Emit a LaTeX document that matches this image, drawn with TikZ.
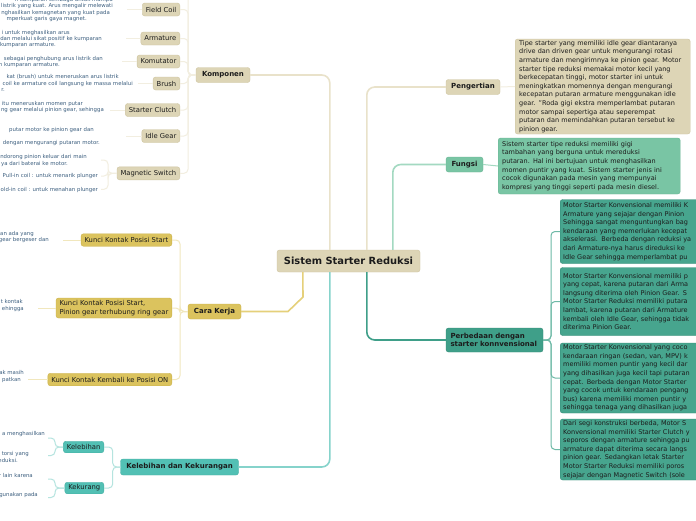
\documentclass[tikz,border=0pt]{standalone}
\usepackage{fontspec}
\setmainfont{DejaVu Sans}
\definecolor{beige}{HTML}{DDD5B6}
\definecolor{beigeD}{HTML}{CEC4A0}
\definecolor{beigeL}{HTML}{E9E2CA}
\definecolor{beigeLL}{HTML}{F2EEE0}
\definecolor{gold}{HTML}{DBC35E}
\definecolor{goldD}{HTML}{CBB24A}
\definecolor{goldL}{HTML}{E5D07A}
\definecolor{goldLL}{HTML}{F1E7BD}
\definecolor{tealc}{HTML}{52C0B4}
\definecolor{tealD}{HTML}{44AFA3}
\definecolor{tealL}{HTML}{86D3CB}
\definecolor{tealLL}{HTML}{B5E4DF}
\definecolor{mint}{HTML}{79C5A4}
\definecolor{mintD}{HTML}{68B493}
\definecolor{mintL}{HTML}{A3D9C1}
\definecolor{sea}{HTML}{3F9F89}
\definecolor{seaD}{HTML}{338B76}
\definecolor{seaBox}{HTML}{47A58E}
\definecolor{seaL}{HTML}{6DB9A6}
\definecolor{leaftxt}{HTML}{3E6080}
\definecolor{boxtxt}{HTML}{1C1C1C}
\begin{document}
\begin{tikzpicture}[x=1pt,y=-1pt,
  basebox/.style={rounded corners=2.5pt, inner ysep=0pt, inner xsep=3.5pt, text=boxtxt, line width=0.4pt},
  childfont/.style={font=\fontsize{6.8}{8}\selectfont},
  boldfont/.style={font=\fontsize{7}{8.5}\selectfont\bfseries},
  bchild/.style={basebox, childfont, fill=beige, draw=beigeD, minimum height=13pt, anchor=east},
  gchild/.style={basebox, childfont, fill=gold, draw=goldD, minimum height=12.5pt, anchor=east},
  tchild/.style={basebox, childfont, fill=tealc, draw=tealD, minimum height=11.5pt, anchor=east},
  mainbox/.style={basebox, boldfont, minimum height=15pt},
  parbox/.style={basebox, font=\fontsize{6.5}{8.6}\selectfont, align=left, inner xsep=4pt, anchor=west},
  leaf/.style={anchor=base east, inner sep=0pt, font=\fontsize{5.4}{6.5}\selectfont, text=leaftxt},
  bline/.style={draw=beigeLL, line width=1pt, rounded corners=4pt},
  bmain/.style={draw=beigeL, line width=1.6pt, rounded corners=8pt},
  gline/.style={draw=goldLL, line width=1pt, rounded corners=4pt},
  gmain/.style={draw=goldL, line width=1.6pt},
  tline/.style={draw=tealLL, line width=1pt, rounded corners=4pt},
  tmain/.style={draw=tealL, line width=1.6pt, rounded corners=8pt},
  mmain/.style={draw=mintL, line width=1.6pt, rounded corners=8pt},
  smain/.style={draw=sea, line width=1.6pt, rounded corners=8pt},
  sline/.style={draw=seaL, line width=1pt, rounded corners=4pt}
]
\useasboundingbox (0,0) rectangle (696,520);
\fill[white] (0,0) rectangle (696,520);

% ---------- root ----------
\node[basebox, fill=beige, draw=beigeD, minimum width=143pt, minimum height=22pt,
  font=\fontsize{9.9}{11}\selectfont\bfseries] (root) at (348.5,261) {Sistem Starter Reduksi};

% ---------- Komponen ----------
\node[mainbox, fill=beige, draw=beigeD, minimum width=54pt] (komp) at (223,75) {Komponen};
\node[bchild] (fc) at (180,9.5) {Field Coil};
\node[bchild] (arm) at (180,38.5) {Armature};
\node[bchild] (kom) at (180,61.5) {Komutator};
\node[bchild] (br) at (180,83.5) {Brush};
\node[bchild] (sc) at (180,110) {Starter Clutch};
\node[bchild] (ig) at (180,136) {Idle Gear};
\node[bchild] (ms) at (180,173.3) {Magnetic Switch};

\draw[bline] (komp.west) -- (188,75) -- (188,-6);
\foreach \c in {fc,arm,kom,br,sc,ig,ms}{\draw[bline] (komp.west) -- (188,75) |- (\c.east);}

\coordinate (fcL) at (127,9.5);
\coordinate (armL) at (126,38.5);
\coordinate (komL) at (122,61.5);
\coordinate (brL) at (138,83.5);
\coordinate (scL) at (110,110);
\coordinate (igL) at (126,136);
\draw[bline] (fc.west) -- (fcL);
\draw[bline] (arm.west) -- (armL);
\draw[bline] (kom.west) -- (komL);
\draw[bline] (br.west) -- (brL);
\draw[bline] (sc.west) -- (scL);
\draw[bline] (ig.west) -- (igL);
\coordinate (msA) at (101,160);
\coordinate (msB) at (101,176);
\coordinate (msC) at (101,189.3);
\foreach \c in {msA,msB,msC}{\draw[bline] (ms.west) -- (108,173.3) |- (\c);}

\node[leaf] (fa) at (113,1.2) {n kumparan tembaga untuk mampu};
\node[leaf] (fb) at (113,7.8) {listrik yang kuat. Arus mengalir melewati};
\node[leaf] (fcc) at (110,14.5) {nghasilkan kemagnetan yang kuat pada};
\node[leaf] (fd) at (87,20.8) {mperkuat garis gaya magnet.};
\node[leaf] (aa) at (70,34.1) {i untuk meghasilkan arus};
\node[leaf] (ab) at (102,40.1) {dan melalui sikat positif ke kumparan};
\node[leaf] (ac) at (56,46.1) {kumparan armature.};
\node[leaf] (ka) at (103,60.1) {sebagai penghubung arus listrik dan};
\node[leaf] (kb) at (60,66.1) {n kumparan armature.};
\node[leaf] (ba) at (119,78.5) {kat (brush) untuk meneruskan arus listrik};
\node[leaf] (bb) at (133,85.1) {coil ke armature coil langsung ke massa melalui};
\node[leaf] (bc) at (5,91.1) {r.};
\node[leaf] (sa) at (83,105.1) {itu meneruskan momen putar};
\node[leaf] (sb) at (104,111.8) {ng gear melalui pinion gear, sehingga};
\node[leaf] (ia) at (94,131.1) {putar motor ke pinion gear dan};
\node[leaf] (ib) at (100,144.5) {dengan mengurangi putaran motor.};
\node[leaf] (ma) at (87,158.5) {ndorong pinion keluar dari main};
\node[leaf] (mb) at (68,165.1) {ya dari baterai ke motor.};
\node[leaf] (mc) at (98,177.8) {Pull-in coil : untuk menarik plunger};
\node[leaf] (md) at (98,191.1) {old-in coil : untuk menahan plunger};

% ---------- Cara Kerja ----------
\node[mainbox, fill=gold, draw=goldD, minimum width=53pt] (cara) at (214.5,311.5) {Cara Kerja};
\node[gchild] (ck1) at (172,240) {Kunci Kontak Posisi Start};
\node[gchild, align=left, minimum height=20pt, font=\fontsize{6.8}{8.5}\selectfont] (ck2) at (172,308) {Kunci Kontak Posisi Start,\\Pinion gear terhubung ring gear};
\node[gchild] (ck3) at (172,379.5) {Kunci Kontak Kembali ke Posisi ON};
\foreach \c in {ck1,ck2,ck3}{\draw[gline] (cara.west) -- (180,311.5) |- (\c.east);}
\coordinate (ck1L) at (63,240);
\coordinate (ck2L) at (38,308);
\coordinate (ck3L) at (28,379.5);
\draw[gline] (ck1.west) -- (ck1L);
\draw[gline] (ck2.west) -- (ck2L);
\draw[gline] (ck3.west) -- (ck3L);
\node[leaf] (c1a) at (34,235.8) {an ada yang};
\node[leaf] (c1b) at (49,241.8) {gear bergeser dan};
\node[leaf] (c2a) at (23,303.5) {t kontak};
\node[leaf] (c2b) at (24,310.1) {ehingga};
\node[leaf] (c3a) at (24,374.5) {ak masih};
\node[leaf] (c3b) at (21,381.8) {patkan};
\draw[gmain] ([xshift=26pt]root.south west) -- (303,297) -- (288,311.5) -- (cara.east);

% ---------- Kelebihan dan Kekurangan ----------
\node[mainbox, fill=tealc, draw=tealD, minimum width=118pt, minimum height=16pt] (kdk) at (179.5,467) {Kelebihan dan Kekurangan};
\node[tchild] (kel) at (104,447) {Kelebihan};
\node[tchild] (kek) at (104,488) {Kekurang};
\foreach \c in {kel,kek}{\draw[tline] (kdk.west) -- (112.7,467) |- (\c.east);}
\coordinate (kelA) at (48,438);
\coordinate (kelB) at (48,455.5);
\coordinate (kekA) at (48,479);
\coordinate (kekB) at (48,497.5);
\foreach \c in {kelA,kelB}{\draw[tline] (kel.west) -- (55,447) |- (\c);}
\foreach \c in {kekA,kekB}{\draw[tline] (kek.west) -- (55,488) |- (\c);}
\node[leaf] (la) at (45,435.8) {a menghasilkan};
\node[leaf] (lb) at (29,455.8) {torsi yang};
\node[leaf] (lc) at (18,462.3) {eduksi.};
\node[leaf] (ld) at (33,477.8) {r lain karena};
\node[leaf] (le) at (38,496.8) {gunakan pada};

% ---------- Pengertian ----------
\node[mainbox, fill=beige, draw=beigeD, minimum width=54pt] (peng) at (473,87) {Pengertian};
\node[parbox, fill=beige, draw=beigeD, text width=167pt, minimum height=95pt] (pengT) at (515,86.5) {Tipe starter yang memiliki idle gear diantaranya\\drive dan driven gear untuk mengurangi rotasi\\armature dan mengirimnya ke pinion gear. Motor\\starter tipe reduksi memakai motor kecil yang\\berkecepatan tinggi, motor starter ini untuk\\meningkatkan momennya dengan mengurangi\\kecepatan putaran armature menggunakan idle\\gear. "Roda gigi ekstra memperlambat putaran\\motor sampai sepertiga atau seperempat\\putaran dan memindahkan putaran tersebut ke\\pinion gear.};
\draw[bline, line width=1pt] (peng.east) -- (pengT.west);

% ---------- Fungsi ----------
\node[mainbox, fill=mint, draw=mintD, minimum width=37pt] (fungsi) at (464.5,164.5) {Fungsi};
\node[parbox, fill=mint, draw=mintD, text width=174pt, minimum height=56pt] (fungsiT) at (498,166) {Sistem starter tipe reduksi memiliki gigi\\tambahan yang berguna untuk mereduksi\\putaran. Hal ini bertujuan untuk menghasilkan\\momen puntir yang kuat. Sistem starter jenis ini\\cocok digunakan pada mesin yang mempunyai\\kompresi yang tinggi seperti pada mesin diesel.};
\draw[draw=mintL, line width=1pt] (fungsi.east) -- (fungsiT.west);

% ---------- Perbedaan ----------
\node[mainbox, fill=sea, draw=seaD, minimum width=97pt, minimum height=24pt, align=left, text width=88pt, font=\fontsize{7}{8.5}\selectfont\bfseries] (perb) at (494.5,340) {Perbedaan dengan\\starter konnvensional};
\node[parbox, fill=seaBox, draw=seaD, text width=160pt, inner xsep=3pt, minimum height=64pt] (p1) at (560,231.5) {Motor Starter Konvensional memiliki K\\Armature yang sejajar dengan Pinion\\Sehingga sangat menguntungkan bag\\kendaraan yang memerlukan kecepat\\akselerasi. Berbeda dengan reduksi ya\\dari Armature-nya harus direduksi ke\\Idle Gear sehingga memperlambat pu};
\node[parbox, fill=seaBox, draw=seaD, text width=160pt, inner xsep=3pt, minimum height=68pt] (p2) at (560,301.5) {Motor Starter Konvensional memiliki p\\yang cepat, karena putaran dari Arma\\langsung diterima oleh Pinion Gear. S\\Motor Starter Reduksi memiliki putara\\lambat, karena putaran dari Armature\\kembali oleh Idle Gear, sehingga tidak\\diterima Pinion Gear.};
\node[parbox, fill=seaBox, draw=seaD, text width=160pt, inner xsep=3pt, minimum height=70pt] (p3) at (560,378) {Motor Starter Konvensional yang coco\\kendaraan ringan (sedan, van, MPV) k\\memiliki momen puntir yang kecil dar\\yang dihasilkan juga kecil tapi putaran\\cepat. Berbeda dengan Motor Starter\\yang cocok untuk kendaraan pengang\\bus) karena memiliki momen puntir y\\sehingga tenaga yang dihasilkan juga};
\node[parbox, fill=seaBox, draw=seaD, text width=160pt, inner xsep=3pt, minimum height=61pt] (p4) at (560,449.5) {Dari segi konstruksi berbeda, Motor S\\Konvensional memiliki Starter Clutch y\\seporos dengan armature sehingga pu\\armature dapat diterima secara langs\\pinion gear. Sedangkan letak Starter\\Motor Starter Reduksi memiliki poros\\sejajar dengan Magnetic Switch (sole};
\foreach \c in {p1,p2,p3,p4}{\draw[sline] (perb.east) -- (551,340) |- (\c.west);}

% ---------- main connectors ----------
\draw[bmain] (komp.east) -| ([xshift=53pt]root.north west);
\draw[bmain] (peng.west) -| ([xshift=90pt]root.north west);
\draw[mmain] (fungsi.west) -| ([xshift=116pt]root.north west);
\draw[tmain] (kdk.east) -| ([xshift=53pt]root.south west);
\draw[smain] (perb.west) -| ([xshift=90pt]root.south west);
\end{tikzpicture}
\end{document}
